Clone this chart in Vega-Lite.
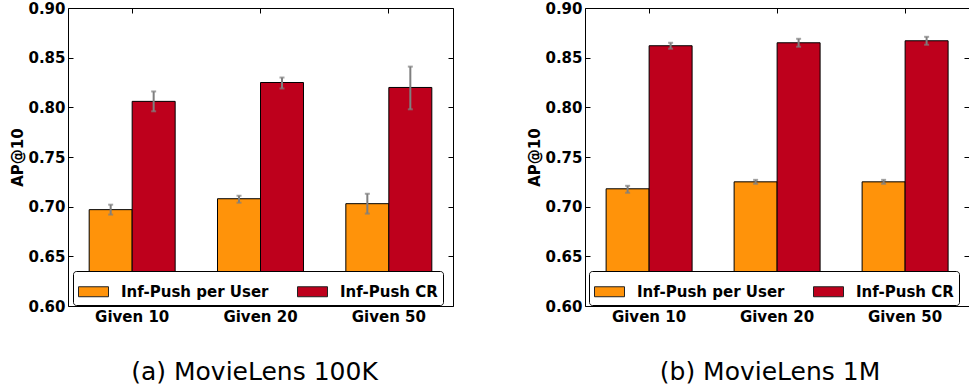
{
  "$schema": "https://vega.github.io/schema/vega-lite/v6.json",
  "padding": {"left": 10, "top": 0, "right": 0, "bottom": 0},
  "background": "white",
  "config": {
    "view": {"stroke": "black", "strokeWidth": 1},
    "font": "DejaVu Sans",
    "axis": {"labelFont": "DejaVu Sans", "labelFontWeight": "bold", "labelFontSize": 15, "labelColor": "black", "titleFont": "DejaVu Sans", "titleFontWeight": "bold", "titleFontSize": 15, "titleColor": "black", "tickColor": "black", "domain": false, "grid": false},
    "legend": {"orient": "none", "legendY": 263, "direction": "horizontal", "columns": 2, "title": null,
      "symbolType": "M-1,-0.333H1V0.333H-1Z", "symbolSize": 900, "symbolStrokeColor": "#222", "symbolStrokeWidth": 1, "symbolOpacity": 1,
      "labelFont": "DejaVu Sans", "labelFontWeight": "bold", "labelFontSize": 15, "labelColor": "black", "labelLimit": 400,
      "strokeColor": "black", "strokeWidth": 1, "fillColor": "white", "cornerRadius": 3, "padding": 5, "columnPadding": 26, "labelOffset": 12},
    "title": {"font": "DejaVu Sans", "fontSize": 25, "fontWeight": "normal", "color": "black", "orient": "bottom", "anchor": "middle", "offset": 36}
  },
  "resolve": {"legend": {"color": "independent"}},
  "spacing": 73,
  "hconcat": [
    {
      "width": 385, "height": 298,
      "title": {"text": "(a) MovieLens 100K", "dx": -6},
      "data": {"values": [
        {"given": "Given 10", "series": "Inf-Push per User", "value": 0.697, "lo": 0.692, "hi": 0.702},
        {"given": "Given 10", "series": "Inf-Push CR", "value": 0.806, "lo": 0.796, "hi": 0.816},
        {"given": "Given 20", "series": "Inf-Push per User", "value": 0.708, "lo": 0.704, "hi": 0.711},
        {"given": "Given 20", "series": "Inf-Push CR", "value": 0.825, "lo": 0.819, "hi": 0.830},
        {"given": "Given 50", "series": "Inf-Push per User", "value": 0.703, "lo": 0.693, "hi": 0.713},
        {"given": "Given 50", "series": "Inf-Push CR", "value": 0.820, "lo": 0.798, "hi": 0.841}
      ]},
      "resolve": {"axis": {"x": "independent", "y": "independent"}},
      "layer": [
        {
          "mark": {"type": "bar", "stroke": "black", "strokeWidth": 1, "clip": true},
          "encoding": {
            "x": {"field": "given", "type": "nominal", "scale": {"paddingInner": 0.33, "paddingOuter": 0.165}, "axis": {"title": null, "labelAngle": 0, "tickSize": -5, "labelPadding": 8, "orient": "bottom"}},
            "xOffset": {"field": "series", "type": "nominal", "scale": {"domain": ["Inf-Push per User", "Inf-Push CR"]}},
            "y": {"field": "value", "type": "quantitative", "scale": {"domain": [0.6, 0.9], "zero": false, "nice": false}, "axis": {"title": "AP@10", "values": [0.6, 0.65, 0.7, 0.75, 0.8, 0.85, 0.9], "format": ".2f", "tickSize": -5, "labelPadding": 8, "titlePadding": 2}},
            "color": {"field": "series", "type": "nominal", "scale": {"domain": ["Inf-Push per User", "Inf-Push CR"], "range": ["#FF930A", "#BE001C"]}, "legend": {"legendX": 5}}
          }
        },
        {
          "mark": {"type": "rule", "color": "#7f7f7f", "strokeWidth": 2},
          "encoding": {
            "x": {"field": "given", "type": "nominal", "axis": {"orient": "top", "labels": false, "title": null, "tickSize": -5}},
            "xOffset": {"field": "series", "type": "nominal"},
            "y": {"field": "lo", "type": "quantitative", "axis": {"orient": "right", "labels": false, "title": null, "tickSize": -5, "values": [0.6, 0.65, 0.7, 0.75, 0.8, 0.85, 0.9]}},
            "y2": {"field": "hi"}
          }
        },
        {
          "mark": {"type": "tick", "color": "#7f7f7f", "size": 5, "thickness": 2},
          "encoding": {
            "x": {"field": "given", "type": "nominal", "axis": null},
            "xOffset": {"field": "series", "type": "nominal"},
            "y": {"field": "lo", "type": "quantitative", "axis": null}
          }
        },
        {
          "mark": {"type": "tick", "color": "#7f7f7f", "size": 5, "thickness": 2},
          "encoding": {
            "x": {"field": "given", "type": "nominal", "axis": null},
            "xOffset": {"field": "series", "type": "nominal"},
            "y": {"field": "hi", "type": "quantitative", "axis": null}
          }
        }
      ]
    },
    {
      "width": 384, "height": 298,
      "title": {"text": "(b) MovieLens 1M", "dx": -7},
      "data": {"values": [
        {"given": "Given 10", "series": "Inf-Push per User", "value": 0.718, "lo": 0.714, "hi": 0.721},
        {"given": "Given 10", "series": "Inf-Push CR", "value": 0.862, "lo": 0.859, "hi": 0.865},
        {"given": "Given 20", "series": "Inf-Push per User", "value": 0.725, "lo": 0.723, "hi": 0.727},
        {"given": "Given 20", "series": "Inf-Push CR", "value": 0.865, "lo": 0.861, "hi": 0.869},
        {"given": "Given 50", "series": "Inf-Push per User", "value": 0.725, "lo": 0.723, "hi": 0.727},
        {"given": "Given 50", "series": "Inf-Push CR", "value": 0.867, "lo": 0.863, "hi": 0.871}
      ]},
      "resolve": {"axis": {"x": "independent", "y": "independent"}},
      "layer": [
        {
          "mark": {"type": "bar", "stroke": "black", "strokeWidth": 1, "clip": true},
          "encoding": {
            "x": {"field": "given", "type": "nominal", "scale": {"paddingInner": 0.33, "paddingOuter": 0.165}, "axis": {"title": null, "labelAngle": 0, "tickSize": -5, "labelPadding": 8, "orient": "bottom"}},
            "xOffset": {"field": "series", "type": "nominal", "scale": {"domain": ["Inf-Push per User", "Inf-Push CR"]}},
            "y": {"field": "value", "type": "quantitative", "scale": {"domain": [0.6, 0.9], "zero": false, "nice": false}, "axis": {"title": "AP@10", "values": [0.6, 0.65, 0.7, 0.75, 0.8, 0.85, 0.9], "format": ".2f", "tickSize": -5, "labelPadding": 8, "titlePadding": 2}},
            "color": {"field": "series", "type": "nominal", "scale": {"domain": ["Inf-Push per User", "Inf-Push CR"], "range": ["#FF930A", "#BE001C"]}, "legend": {"legendX": 4}}
          }
        },
        {
          "mark": {"type": "rule", "color": "#7f7f7f", "strokeWidth": 2},
          "encoding": {
            "x": {"field": "given", "type": "nominal", "axis": {"orient": "top", "labels": false, "title": null, "tickSize": -5}},
            "xOffset": {"field": "series", "type": "nominal"},
            "y": {"field": "lo", "type": "quantitative", "axis": {"orient": "right", "labels": false, "title": null, "tickSize": -5, "values": [0.6, 0.65, 0.7, 0.75, 0.8, 0.85, 0.9]}},
            "y2": {"field": "hi"}
          }
        },
        {
          "mark": {"type": "tick", "color": "#7f7f7f", "size": 5, "thickness": 2},
          "encoding": {
            "x": {"field": "given", "type": "nominal", "axis": null},
            "xOffset": {"field": "series", "type": "nominal"},
            "y": {"field": "lo", "type": "quantitative", "axis": null}
          }
        },
        {
          "mark": {"type": "tick", "color": "#7f7f7f", "size": 5, "thickness": 2},
          "encoding": {
            "x": {"field": "given", "type": "nominal", "axis": null},
            "xOffset": {"field": "series", "type": "nominal"},
            "y": {"field": "hi", "type": "quantitative", "axis": null}
          }
        }
      ]
    }
  ]
}
